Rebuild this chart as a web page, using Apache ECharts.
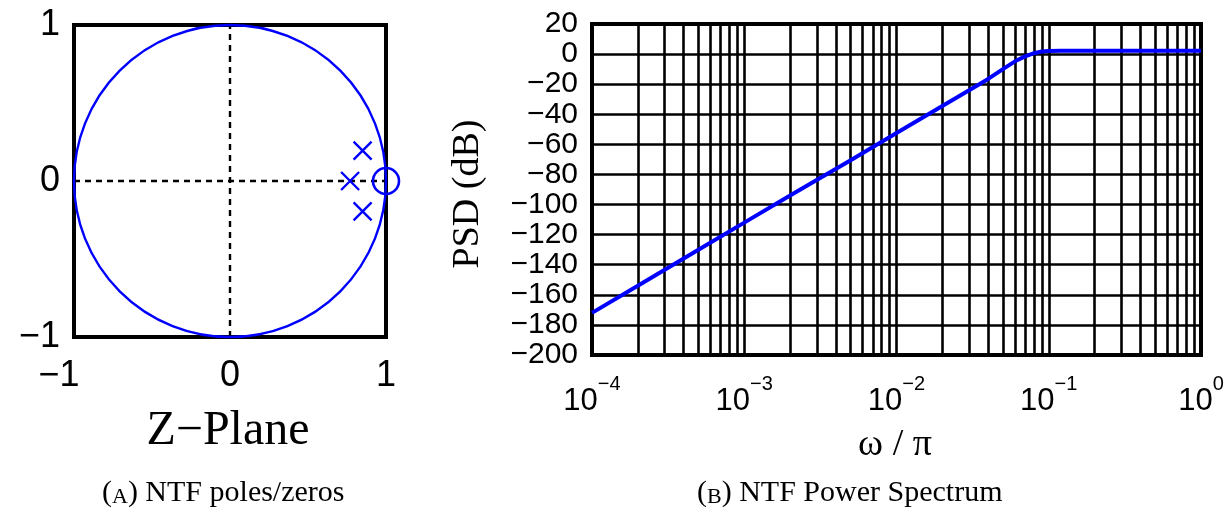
<!DOCTYPE html>
<html><head><meta charset="utf-8">
<script src="https://cdn.jsdelivr.net/npm/echarts@6/dist/echarts.min.js"></script>
<style>html,body{margin:0;padding:0;background:#fff}#c{width:1225px;height:508px}</style>
</head><body><div id="c"></div>
<script>
// ---- Data: left panel (z-plane) ----
const poles = [[0.85, 0.195], [0.77, 0], [0.85, -0.195]];
const zeros = [[1, 0]];
const unitCircle = [[0, 0, 1]]; // centre x, centre y, radius
const zTicks = [-1, 0, 1];

// ---- Data: right panel (NTF power spectrum) ----
const freq = [1e-4, 2e-4, 5e-4, 1e-3, 2e-3, 5e-3, 1e-2, 2e-2, 3e-2, 4e-2, 5e-2, 6e-2, 7e-2, 8e-2, 9e-2, 0.1, 0.12, 0.15, 0.2, 0.3, 0.5, 0.7, 1];
const psd  = [-172, -154, -130, -112, -94, -70.5, -52.5, -34.5, -24, -16.5, -10, -4.8, -1.5, 0.6, 1.7, 2.1, 2.3, 2.3, 2.3, 2.3, 2.3, 2.3, 2.3];
const minorGridX = [2e-4,3e-4,4e-4,5e-4,6e-4,7e-4,8e-4,9e-4,
                    2e-3,3e-3,4e-3,5e-3,6e-3,7e-3,8e-3,9e-3,
                    2e-2,3e-2,4e-2,5e-2,6e-2,7e-2,8e-2,9e-2,
                    0.2,0.3,0.4,0.5,0.6,0.7,0.8,0.9];

const SANS = 'Liberation Sans';
const SERIF = 'Liberation Serif';
const minus = v => (v < 0 ? '\u2212' + (-v) : String(v));
const BLUE = '#0000ff';
const GRIDW = 2.6;

const chart = echarts.init(document.getElementById('c'), null, {renderer: 'canvas'});
chart.setOption({
  animation: false,
  backgroundColor: '#fff',
  grid: [
    {left: 74, top: 25, width: 312, height: 312, show: true, borderColor: '#000', borderWidth: 4, containLabel: false, outerBoundsMode: 'none'},
    {left: 592, top: 24, width: 609, height: 331, show: true, borderColor: '#000', borderWidth: 4, containLabel: false, outerBoundsMode: 'none'}
  ],
  xAxis: [
    {type: 'value', gridIndex: 0, min: -1, max: 1, interval: 1,
     axisLine: {show: false}, axisTick: {show: false}, splitLine: {show: false},
     axisLabel: {color: '#000', fontFamily: SANS, fontSize: 36, margin: 21, hideOverlap: false,
       showMinLabel: true, showMaxLabel: true,
       formatter: v => (v === -1 ? '{m|\u22121}' : minus(v)),
       rich: {m: {fontFamily: SANS, fontSize: 36, color: '#000', padding: [0, 30, 0, 0]}}}},
    {type: 'log', logBase: 10, gridIndex: 1, min: 1e-4, max: 1,
     axisLine: {show: false}, axisTick: {show: false},
     splitLine: {show: true, lineStyle: {color: '#000', width: GRIDW}},
     axisLabel: {color: '#000', margin: 19, hideOverlap: false,
       showMinLabel: true, showMaxLabel: true,
       formatter: v => {
         const e = Math.round(Math.log10(v));
         return '{b|10}{e|' + minus(e) + '}';
       },
       rich: {
         b: {fontFamily: SANS, fontSize: 31, color: '#000', verticalAlign: 'bottom'},
         e: {fontFamily: SANS, fontSize: 20, color: '#000', verticalAlign: 'bottom', padding: [0, 0, 23, 0]}
       }}}
  ],
  yAxis: [
    {type: 'value', gridIndex: 0, min: -1, max: 1, interval: 1,
     axisLine: {show: false}, axisTick: {show: false}, splitLine: {show: false},
     axisLabel: {color: '#000', fontFamily: SANS, fontSize: 36, margin: 14, hideOverlap: false,
       showMinLabel: true, showMaxLabel: true, formatter: minus}},
    {type: 'value', gridIndex: 1, min: -200, max: 20, interval: 20,
     axisLine: {show: false}, axisTick: {show: false},
     splitLine: {show: true, lineStyle: {color: '#000', width: GRIDW}},
     axisLabel: {color: '#000', fontFamily: SANS, fontSize: 30, margin: 14, hideOverlap: false,
       showMinLabel: true, showMaxLabel: true, formatter: minus}}
  ],
  series: [
    {type: 'custom', xAxisIndex: 0, yAxisIndex: 0, data: unitCircle, silent: true, z: 3,
     renderItem: (params, api) => {
       const c = api.coord([api.value(0), api.value(1)]);
       const s = api.size([api.value(2), api.value(2)]);
       return {type: 'circle', shape: {cx: c[0], cy: c[1], r: s[0]},
               style: {fill: 'none', stroke: BLUE, lineWidth: 2.4}};
     }},
    {type: 'scatter', xAxisIndex: 0, yAxisIndex: 0, data: poles, z: 4, silent: true,
     symbol: 'path://M0,0L10,10M10,0L0,10', symbolSize: 18,
     itemStyle: {color: 'rgba(0,0,0,0)', borderColor: BLUE, borderWidth: 2.4, opacity: 1},
     markLine: {silent: true, symbol: ['none', 'none'], label: {show: false}, z: 2, precision: 10,
       lineStyle: {color: '#000', width: 2.4, type: [6, 5]},
       emphasis: {disabled: true},
       data: [{xAxis: 0}, {yAxis: 0}]}},
    {type: 'scatter', xAxisIndex: 0, yAxisIndex: 0, data: zeros, z: 4, silent: true,
     symbol: 'circle', symbolSize: 26,
     itemStyle: {color: 'rgba(0,0,0,0)', borderColor: BLUE, borderWidth: 2.6, opacity: 1}},
    {type: 'line', xAxisIndex: 1, yAxisIndex: 1, z: 5, silent: true,
     data: freq.map((f, i) => [f, psd[i]]),
     showSymbol: false, symbol: 'none',
     lineStyle: {color: BLUE, width: 4},
     markLine: {silent: true, symbol: ['none', 'none'], label: {show: false}, z: 1, precision: 10,
       emphasis: {disabled: true},
       lineStyle: {color: '#000', width: GRIDW, type: 'solid'},
       data: minorGridX.map(v => ({xAxis: v}))}}
  ],
  graphic: [
    {type: 'text', x: 228, y: 431, silent: true,
     style: {text: 'Z\u2212Plane', fontFamily: SERIF, fontSize: 48, fill: '#000',
             align: 'center', verticalAlign: 'middle', textAlign: 'center', textVerticalAlign: 'middle'}},
    {type: 'text', x: 895, y: 445, silent: true,
     style: {text: '\u03c9 / \u03c0', fontFamily: SERIF, fontSize: 38, fill: '#000',
             align: 'center', verticalAlign: 'middle', textAlign: 'center', textVerticalAlign: 'middle'}},
    {type: 'text', x: 468, y: 194, rotation: Math.PI / 2, silent: true,
     style: {text: 'PSD (dB)', fontFamily: SERIF, fontSize: 38, fill: '#000',
             align: 'center', verticalAlign: 'middle', textAlign: 'center', textVerticalAlign: 'middle'}},
    {type: 'text', x: 102, y: 493, silent: true,
     style: {text: '({s|A}) NTF poles/zeros', fontFamily: SERIF, fontSize: 30, fill: '#000',
             align: 'left', verticalAlign: 'middle', textAlign: 'left', textVerticalAlign: 'middle',
             rich: {s: {fontFamily: SERIF, fontSize: 22, fill: '#000', verticalAlign: 'bottom'}}}},
    {type: 'text', x: 697, y: 493, silent: true,
     style: {text: '({s|B}) NTF Power Spectrum', fontFamily: SERIF, fontSize: 30, fill: '#000',
             align: 'left', verticalAlign: 'middle', textAlign: 'left', textVerticalAlign: 'middle',
             rich: {s: {fontFamily: SERIF, fontSize: 22, fill: '#000', verticalAlign: 'bottom'}}}}
  ]
});
</script>
</body></html>
